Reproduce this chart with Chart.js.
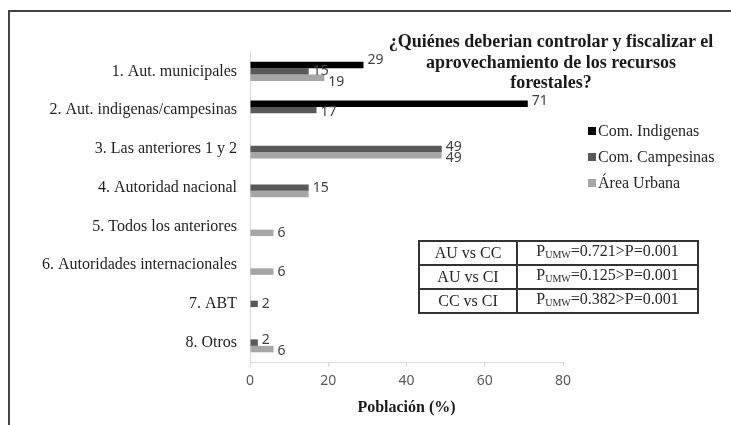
<!DOCTYPE html>
<html>
<head>
<meta charset="utf-8">
<script src="https://cdn.jsdelivr.net/npm/chart.js@4.4.1/dist/chart.umd.min.js"></script>
<style>
  body { margin: 0; background: #fff; }
  #wrap { position: relative; width: 731px; height: 425px; overflow: hidden; }
  #marco { position: absolute; left: 8px; top: 10px; width: 730px; height: 420px;
           border-top: 2px solid #444; border-left: 2px solid #444; }
  #titulo { position: absolute; left: 370px; top: 31px; width: 362px; text-align: center;
            font: bold 18px 'Liberation Serif', serif; line-height: 20.5px; color: #1a1a1a; }
  .ley { position: absolute; left: 588px; font: 16px 'Liberation Serif', serif; color: #262626;
         line-height: 16px; white-space: nowrap; }
  .ley span { display: inline-block; width: 8px; height: 8px; margin-right: 2px; vertical-align: 1px; }
  #tabla { position: absolute; left: 418px; top: 240px; border-collapse: collapse;
           font: 16px 'Liberation Serif', serif; color: #262626; }
  #tabla td { border: 2px solid #333; height: 20px; padding: 0; text-align: center; line-height: 18px; }
  #tabla sub { font-size: 10px; vertical-align: -2px; }
</style>
</head>
<body>
<div id="wrap">
  <canvas id="grafico" width="731" height="425"></canvas>
  <div id="marco"></div>
  <div id="titulo">¿Quiénes deberian controlar y fiscalizar el<br>aprovechamiento de los recursos<br>forestales?</div>
  <div class="ley" style="top:123px"><span style="background:#000"></span>Com. Indigenas</div>
  <div class="ley" style="top:149px"><span style="background:#595959"></span>Com. Campesinas</div>
  <div class="ley" style="top:175px"><span style="background:#a6a6a6"></span>Área Urbana</div>
  <table id="tabla">
    <tr><td style="width:96px">AU vs CC</td><td style="width:179px">P<sub>UMW</sub>=0.721&gt;P=0.001</td></tr>
    <tr><td>AU vs CI</td><td>P<sub>UMW</sub>=0.125&gt;P=0.001</td></tr>
    <tr><td>CC vs CI</td><td>P<sub>UMW</sub>=0.382&gt;P=0.001</td></tr>
  </table>
</div>
<script>
// Categorías y porcentajes por grupo
const categorias = [
  '1. Aut. municipales',
  '2. Aut. indigenas/campesinas',
  '3. Las anteriores 1 y 2',
  '4. Autoridad nacional',
  '5. Todos los anteriores',
  '6. Autoridades internacionales',
  '7. ABT',
  '8. Otros'
];
const valoresIndigenas = [29, 71, 0, 0, 0, 0, 0, 0];
const valoresCampesinas = [15, 17, 49, 15, 0, 0, 2, 2];
const valoresUrbana = [19, 0, 49, 15, 6, 6, 0, 6];
const ticksX = [0, 20, 40, 60, 80];
// etiqueta que no se muestra (dataset-categoria)
const etiquetasOcultas = ['2-3'];

// Etiquetas de valor al final de cada barra, separadas si se enciman
const etiquetasBarras = {
  id: 'etiquetasBarras',
  afterDatasetsDraw(chart) {
    const ctx = chart.ctx;
    const sep = 11;
    ctx.save();
    ctx.font = '14px "Noto Sans", sans-serif';
    ctx.fillStyle = '#404040';
    ctx.textBaseline = 'middle';
    chart.data.labels.forEach((_, j) => {
      const grupo = [];
      chart.data.datasets.forEach((ds, i) => {
        const v = ds.data[j];
        if (!v || etiquetasOcultas.includes(i + '-' + j)) return;
        const bar = chart.getDatasetMeta(i).data[j];
        grupo.push({ v: v, x: bar.x + 4, y: bar.y });
      });
      if (grupo.length > 1) {
        const medio = grupo.reduce((a, g) => a + g.y, 0) / grupo.length;
        grupo.forEach((g, k) => { g.y = medio + (k - (grupo.length - 1) / 2) * sep; });
      }
      grupo.forEach(g => ctx.fillText(String(g.v), g.x, g.y));
    });
    ctx.restore();
  }
};

const ctx = document.getElementById('grafico').getContext('2d');
new Chart(ctx, {
  type: 'bar',
  data: {
    labels: categorias,
    datasets: [
      { label: 'Com. Indigenas', data: valoresIndigenas, backgroundColor: '#000000' },
      { label: 'Com. Campesinas', data: valoresCampesinas, backgroundColor: '#595959' },
      { label: 'Área Urbana', data: valoresUrbana, backgroundColor: '#a6a6a6' }
    ]
  },
  options: {
    indexAxis: 'y',
    responsive: false,
    animation: false,
    barPercentage: 1,
    categoryPercentage: 0.5,
    layout: { padding: { left: 10, right: 168, top: 52, bottom: 3 } },
    plugins: {
      legend: { display: false },
      tooltip: { enabled: false }
    },
    scales: {
      x: {
        min: 0, max: 80,
        afterBuildTicks: (s) => { s.ticks = ticksX.map(v => ({ value: v })); },
        afterFit: (s) => { s.height = 60; },
        grid: { drawOnChartArea: false, color: '#d9d9d9', tickLength: 5 },
        border: { color: '#d9d9d9' },
        ticks: { padding: 6, color: '#595959', font: { family: 'Noto Sans', size: 14 } },
        title: {
          display: true, text: 'Población (%)', color: '#1a1a1a',
          font: { family: 'Liberation Serif', size: 16, weight: 'bold' },
          padding: { top: 4, bottom: 5 }
        }
      },
      y: {
        afterFit: (s) => { s.width = 240; },
        grid: { display: false, drawTicks: false },
        border: { color: '#d9d9d9' },
        ticks: { padding: 13, color: '#1f1f1f', font: { family: 'Liberation Serif', size: 16 } }
      }
    }
  },
  plugins: [etiquetasBarras]
});
</script>
</body>
</html>
